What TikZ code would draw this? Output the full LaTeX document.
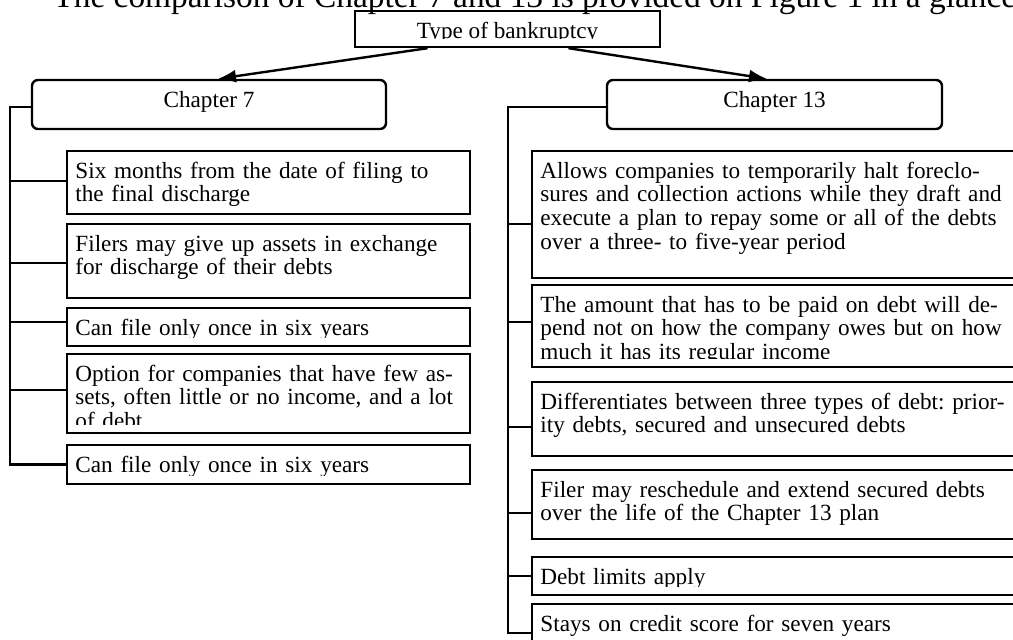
\documentclass[tikz,border=0pt]{standalone}
\usepackage{fontspec}
\setmainfont{Liberation Serif}
\usetikzlibrary{arrows.meta,calc,fit}
\frenchspacing

\tikzset{
  plainbox/.style={draw, line width=1.2pt, inner sep=0pt},
  chapbox/.style={plainbox, rounded corners=3pt},
  boxtext/.style={inner sep=0pt, text width=260pt, align=left, font=\fontsize{11.6}{11.9}\selectfont},
  headtext/.style={inner sep=0pt, font=\fontsize{11.6}{11.9}\selectfont},
  link/.style={line width=1.2pt},
  arrowlink/.style={link, -{Latex[length=9pt,width=6.5pt]}},
}

\begin{document}
\begin{tikzpicture}[x=0.5pt, y=-0.5pt]
  \newcommand{\clippedBox}[9]{
    % draws a framed box whose text is cut off above the bottom edge
    % args:
    %     name
    %     box style
    %     left, top, right, bottom
    %     text node options
    %     x of the text
    %     text
    \node[#2, fit={(#3,#4) (#5,#6)}] (#1) {};
    \begin{scope}
      \clip (#3,#4) rectangle ({#5},{#6-9});
      \node[#7] (#1_txt) at ({#8},{#4+27}) {#9};
    \end{scope}
  }
  % wrappers
  \newcommand{\itemBox}[6]{ \clippedBox{#1}{plainbox}{#2}{#3}{#4}{#5}{boxtext, anchor=base west}{#2+8}{#6} }
  \newcommand{\headBox}[7]{ \clippedBox{#1}{#2}{#3}{#4}{#5}{#6}{headtext, anchor=base}{(#3+#5)/2}{#7} }
  %
  \useasboundingbox (0,0) rectangle (1013,639);
  \clip (0,0) rectangle (1013,639);
  \fill[white] (0,0) rectangle (1013,639);
  % caption line of the page, cut off at the top
  \node[inner sep=0pt, anchor=base west, font=\fontsize{16.7}{18}\selectfont] (caption) at (53,7)
    {The comparison of Chapter 7 and 13 is provided on Figure 1 in a glance};
  % heads
  \headBox{top}{plainbox}{355}{11}{660}{47}{Type of bankruptcy}
  \headBox{ch7}{chapbox}{32}{80}{386}{129}{Chapter 7}
  \headBox{ch13}{chapbox}{607}{80}{942}{129}{Chapter 13}
  % chapter 7 items
  \itemBox{c7a}{67}{151}{470}{214}{Six months from the date of filing to\\the final discharge}
  \itemBox{c7b}{67}{224}{470}{298}{Filers may give up assets in exchange\\for discharge of their debts}
  \itemBox{c7c}{67}{308}{470}{346}{Can file only once in six years}
  \itemBox{c7d}{67}{354}{470}{433}{Option for companies that have few as-\\sets, often little or no income, and a lot\\of debt}
  \itemBox{c7e}{67}{445}{470}{484}{Can file only once in six years}
  % chapter 13 items
  \itemBox{c13a}{532}{151}{1025}{278}{Allows companies to temporarily halt foreclo-\\sures and collection actions while they draft and\\execute a plan to repay some or all of the debts\\over a three- to five-year period}
  \itemBox{c13b}{532}{285}{1025}{367}{The amount that has to be paid on debt will de-\\pend not on how the company owes but on how\\much it has its regular income}
  \itemBox{c13c}{532}{382}{1025}{456}{Differentiates between three types of debt: prior-\\ity debts, secured and unsecured debts}
  \itemBox{c13d}{532}{470}{1025}{539}{Filer may reschedule and extend secured debts\\over the life of the Chapter 13 plan}
  \itemBox{c13e}{532}{557}{1025}{595}{Debt limits apply}
  \itemBox{c13f}{532}{604}{1025}{662}{Stays on credit score for seven years}
  % arrows to both chapters
  \draw[arrowlink] ($(top.south)+(-80,0)$) -- ($(ch7.north)+(9,0)$);
  \draw[arrowlink] ($(top.south)+(61,0)$) -- ($(ch13.north)+(-7.5,0)$);
  % spines
  \coordinate (lspine) at (10,107);
  \coordinate (rspine) at (508,107);
  \draw[link] ($(ch7.west)+(0,2.5)$) -- (lspine) |- (c7e.west);
  \draw[link] ($(ch13.west)+(0,2.5)$) -- (rspine) |- (c13f.west);
  \foreach \b/\dy in {c7a/-1.5, c7b/2, c7c/-5, c7d/-3.5}
    \draw[link] ($(\b.west)+(0,\dy)$) coordinate (tmp) -- (tmp -| lspine);
  \foreach \b/\dy in {c13a/9.5, c13b/-4, c13c/8, c13d/8.5, c13e/0}
    \draw[link] ($(\b.west)+(0,\dy)$) coordinate (tmp) -- (tmp -| rspine);
\end{tikzpicture}
\end{document}
